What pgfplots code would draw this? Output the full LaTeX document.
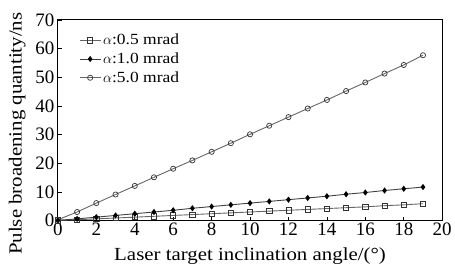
\documentclass[border=0pt]{standalone}
\usepackage{pgfplots}
\pgfplotsset{compat=1.18}
\usepackage{fontspec}
\setmainfont{Liberation Serif}
\newfontfamily\wide{Liberation Serif}[FakeStretch=1.13]
\begin{document}
\begin{tikzpicture}
\begin{axis}[
  scale only axis, width=385pt, height=201pt,
  xmin=0, xmax=20, ymin=0, ymax=70,
  xtick={0,2,...,20}, ytick={0,10,...,70},
  axis line style={line width=1pt},
  tick style={black, line width=0.8pt},
  major tick length=4pt,
  xtick pos=bottom, ytick pos=left,
  tick align=inside,
  ticklabel style={font=\fontsize{19}{20}\selectfont},
  xticklabel style={yshift=1pt},
  yticklabel style={xshift=0pt},
  /pgf/number format/assume math mode=true,
  xlabel={Laser target inclination angle/(\textdegree)},
  ylabel={Pulse broadening quantity/ns},
  label style={font=\wide\fontsize{18.5}{20}\selectfont},
  xlabel style={yshift=-5pt},
  ylabel style={at={(axis description cs:-0.075,0.433)}, anchor=south},
  legend style={draw=none, fill=none, at={(axis description cs:0.055,0.94)}, anchor=north west, font=\wide\fontsize{15.5}{18}\selectfont, inner sep=0pt, row sep=2.5pt},
  legend image code/.code={
    \draw[mark repeat=2,mark phase=2,#1] plot coordinates {(0pt,0pt) (10.5pt,0pt) (21pt,0pt)};},
  legend cell align=left,
]
\addplot[black!60, line width=0.9pt, mark=square, mark size=2.6pt, mark options={black!80, line width=0.7pt, fill=white}] coordinates {
(0,0.1)(1,0.3)(2,0.6)(3,0.9)(4,1.2)(5,1.5)(6,1.8)(7,2.1)(8,2.4)(9,2.7)(10,3.0)(11,3.3)(12,3.6)(13,3.9)(14,4.2)(15,4.5)(16,4.8)(17,5.2)(18,5.5)(19,5.9)};
\addlegendentry{$\alpha$:0.5 mrad}
\addplot[black!75, line width=0.9pt, mark=diamond*, mark size=2.4pt, mark options={black}] coordinates {
(0,0.1)(1,0.6)(2,1.2)(3,1.8)(4,2.4)(5,3.0)(6,3.6)(7,4.3)(8,4.9)(9,5.5)(10,6.1)(11,6.7)(12,7.3)(13,7.9)(14,8.5)(15,9.2)(16,9.8)(17,10.5)(18,11.1)(19,11.7)};
\addlegendentry{$\alpha$:1.0 mrad}
\addplot[black!60, line width=0.9pt, mark=o, mark size=2.6pt, mark options={black!80, line width=0.7pt, fill=white}] coordinates {
(0,0.3)(1,3.0)(2,6.1)(3,9.1)(4,12.1)(5,15.1)(6,18.1)(7,21.0)(8,24.0)(9,27.0)(10,30.1)(11,33.1)(12,36.1)(13,39.1)(14,42.1)(15,45.2)(16,48.2)(17,51.3)(18,54.3)(19,57.7)};
\addlegendentry{$\alpha$:5.0 mrad}
\end{axis}
\path (current axis.south west) ++(-58pt,-45pt);
\path (current axis.north east) ++(12pt,20pt);
\end{tikzpicture}
\end{document}
